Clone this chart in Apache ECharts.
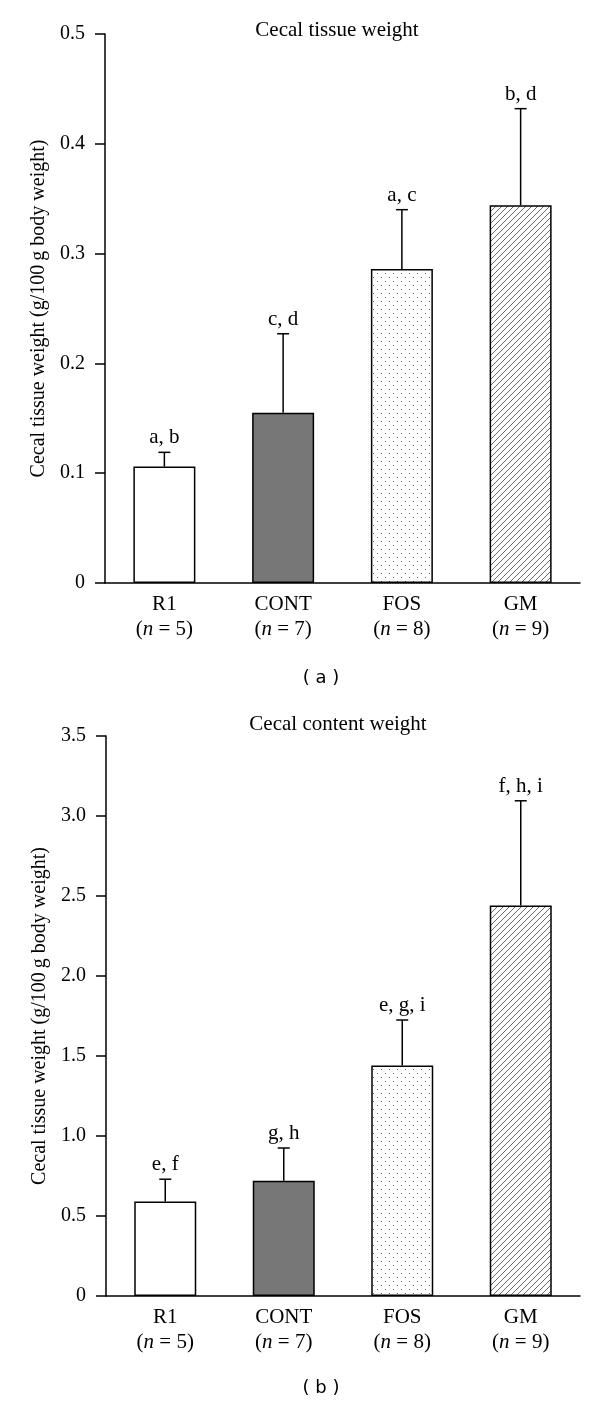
<!DOCTYPE html>
<html><head><meta charset="utf-8">
<script src="https://cdn.jsdelivr.net/npm/echarts@6/dist/echarts.min.js"></script>
<style>html,body{margin:0;padding:0;background:#fff}#c{width:600px;height:1404px}</style>
</head><body><div id="c"></div>
<script>
// ---- data ----
const categories = ['R1', 'CONT', 'FOS', 'GM'];
const groupSizes = [5, 7, 8, 9];
const tissueMeans = [0.106, 0.155, 0.286, 0.344];
const tissueSD = [0.013, 0.072, 0.054, 0.088];
const tissueLetters = ['a, b', 'c, d', 'a, c', 'b, d'];
const contentMeans = [0.59, 0.72, 1.44, 2.44];
const contentSD = [0.14, 0.205, 0.285, 0.655];
const contentLetters = ['e, f', 'g, h', 'e, g, i', 'f, h, i'];
const tissueTicks = [0, 0.1, 0.2, 0.3, 0.4, 0.5];
const contentTicks = [0, 0.5, 1.0, 1.5, 2.0, 2.5, 3.0, 3.5];
const panelTitles = ['Cecal tissue weight', 'Cecal content weight'];
const yAxisTitle = 'Cecal tissue weight (g/100\u2009g body weight)';
const panelTags = ['( a )', '( b )'];

// ---- patterns ----
function dotPattern() {
  const c = document.createElement('canvas'); c.width = 8; c.height = 8;
  const g = c.getContext('2d');
  g.fillStyle = '#fff'; g.fillRect(0, 0, 8, 8);
  g.fillStyle = '#666';
  g.fillRect(1, 1, 1, 1); g.fillRect(5, 5, 1, 1);
  return c;
}
function hatchPattern() {
  const s = 6;
  const c = document.createElement('canvas'); c.width = s; c.height = s;
  const g = c.getContext('2d');
  g.fillStyle = '#fff'; g.fillRect(0, 0, s, s);
  g.strokeStyle = '#444'; g.lineWidth = 0.8;
  g.beginPath();
  g.moveTo(0, s); g.lineTo(s, 0);
  g.moveTo(-1, 1); g.lineTo(1, -1);
  g.moveTo(s - 1, s + 1); g.lineTo(s + 1, s - 1);
  g.stroke();
  return c;
}
const fills = ['#ffffff', '#777777', { image: dotPattern(), repeat: 'repeat' }, { image: hatchPattern(), repeat: 'repeat' }];

const SERIF = '"Liberation Serif", "Times New Roman", serif';
const FS = 21;
const TICK_FS = 20;

function xLabel(v, i) { return '{a|' + v + '}\n{b|(}{i|n}{b| = ' + groupSizes[i] + ')}'; }
const xRich = {
  a: { fontFamily: SERIF, fontSize: FS, color: '#000', lineHeight: 25 },
  b: { fontFamily: SERIF, fontSize: FS, color: '#000', lineHeight: 25 },
  i: { fontFamily: SERIF, fontSize: FS, fontStyle: 'italic', color: '#000', lineHeight: 25 }
};

function makeX(gi, margin) {
  return {
    type: 'category', gridIndex: gi, data: categories,
    axisLine: { lineStyle: { color: '#000', width: 1.5 } },
    axisTick: { show: false },
    axisLabel: {
      margin: margin, interval: 0,
      formatter: function (v) { return xLabel(v, categories.indexOf(v)); },
      rich: xRich
    }
  };
}
function makeY(gi, ticks) {
  return {
    type: 'value', gridIndex: gi,
    min: ticks[0], max: ticks[ticks.length - 1], interval: ticks[1] - ticks[0],
    splitLine: { show: false },
    axisLine: { show: true, lineStyle: { color: '#000', width: 1.5 } },
    axisTick: { show: true, length: 10, lineStyle: { color: '#000', width: 1.5 } },
    axisLabel: {
      margin: 20, fontFamily: SERIF, fontSize: TICK_FS, color: '#000',
      formatter: function (v) { return v === 0 ? '0' : v.toFixed(1); }
    },
    name: yAxisTitle, nameLocation: 'middle', nameGap: 56, nameRotate: 90,
    nameTextStyle: { fontFamily: SERIF, fontSize: 20, color: '#000' }
  };
}
function barSeries(gi, means) {
  return {
    type: 'bar', xAxisIndex: gi, yAxisIndex: gi, barWidth: 62,
    data: means.map(function (m, i) {
      return { value: m, itemStyle: { color: fills[i], borderColor: '#000', borderWidth: 1.5 } };
    }),
    silent: true
  };
}
function errSeries(gi, means, sds, letters) {
  return {
    type: 'custom', xAxisIndex: gi, yAxisIndex: gi, z: 10, silent: true,
    data: means.map(function (m, i) { return [i, m, sds[i]]; }),
    encode: { x: 0, y: 1 },
    renderItem: function (params, api) {
      const i = api.value(0), m = api.value(1), sd = api.value(2);
      const p0 = api.coord([i, m]);
      const p1 = api.coord([i, m + sd]);
      const st = { stroke: '#000', lineWidth: 1.5 };
      return {
        type: 'group', children: [
          { type: 'line', shape: { x1: p0[0], y1: p0[1], x2: p1[0], y2: p1[1] }, style: st },
          { type: 'line', shape: { x1: p1[0] - 6, y1: p1[1], x2: p1[0] + 6, y2: p1[1] }, style: st },
          { type: 'text', x: p1[0], y: p1[1] - 4,
            style: { text: letters[params.dataIndex], align: 'center', verticalAlign: 'bottom',
                     font: FS + 'px ' + SERIF, fill: '#000' } }
        ]
      };
    }
  };
}

const chart = echarts.init(document.getElementById('c'), null, { renderer: 'canvas' });
chart.setOption({
  animation: false,
  backgroundColor: '#fff',
  grid: [
    { left: 105, top: 34, width: 475, height: 549 },
    { left: 106, top: 736, width: 474, height: 560 }
  ],
  xAxis: [makeX(0, 9), makeX(1, 9)],
  yAxis: [makeY(0, tissueTicks), makeY(1, contentTicks)],
  series: [
    barSeries(0, tissueMeans), errSeries(0, tissueMeans, tissueSD, tissueLetters),
    barSeries(1, contentMeans), errSeries(1, contentMeans, contentSD, contentLetters)
  ],
  graphic: [
    { type: 'text', x: 337, y: 30, style: { text: panelTitles[0], align: 'center', verticalAlign: 'middle', font: FS + 'px ' + SERIF, fill: '#000' } },
    { type: 'text', x: 338, y: 724, style: { text: panelTitles[1], align: 'center', verticalAlign: 'middle', font: FS + 'px ' + SERIF, fill: '#000' } },
    { type: 'text', x: 321, y: 678, style: { text: panelTags[0], align: 'center', verticalAlign: 'middle', font: '18px "DejaVu Sans"', fill: '#000' } },
    { type: 'text', x: 321, y: 1388, style: { text: panelTags[1], align: 'center', verticalAlign: 'middle', font: '18px "DejaVu Sans"', fill: '#000' } }
  ]
});
</script></body></html>
